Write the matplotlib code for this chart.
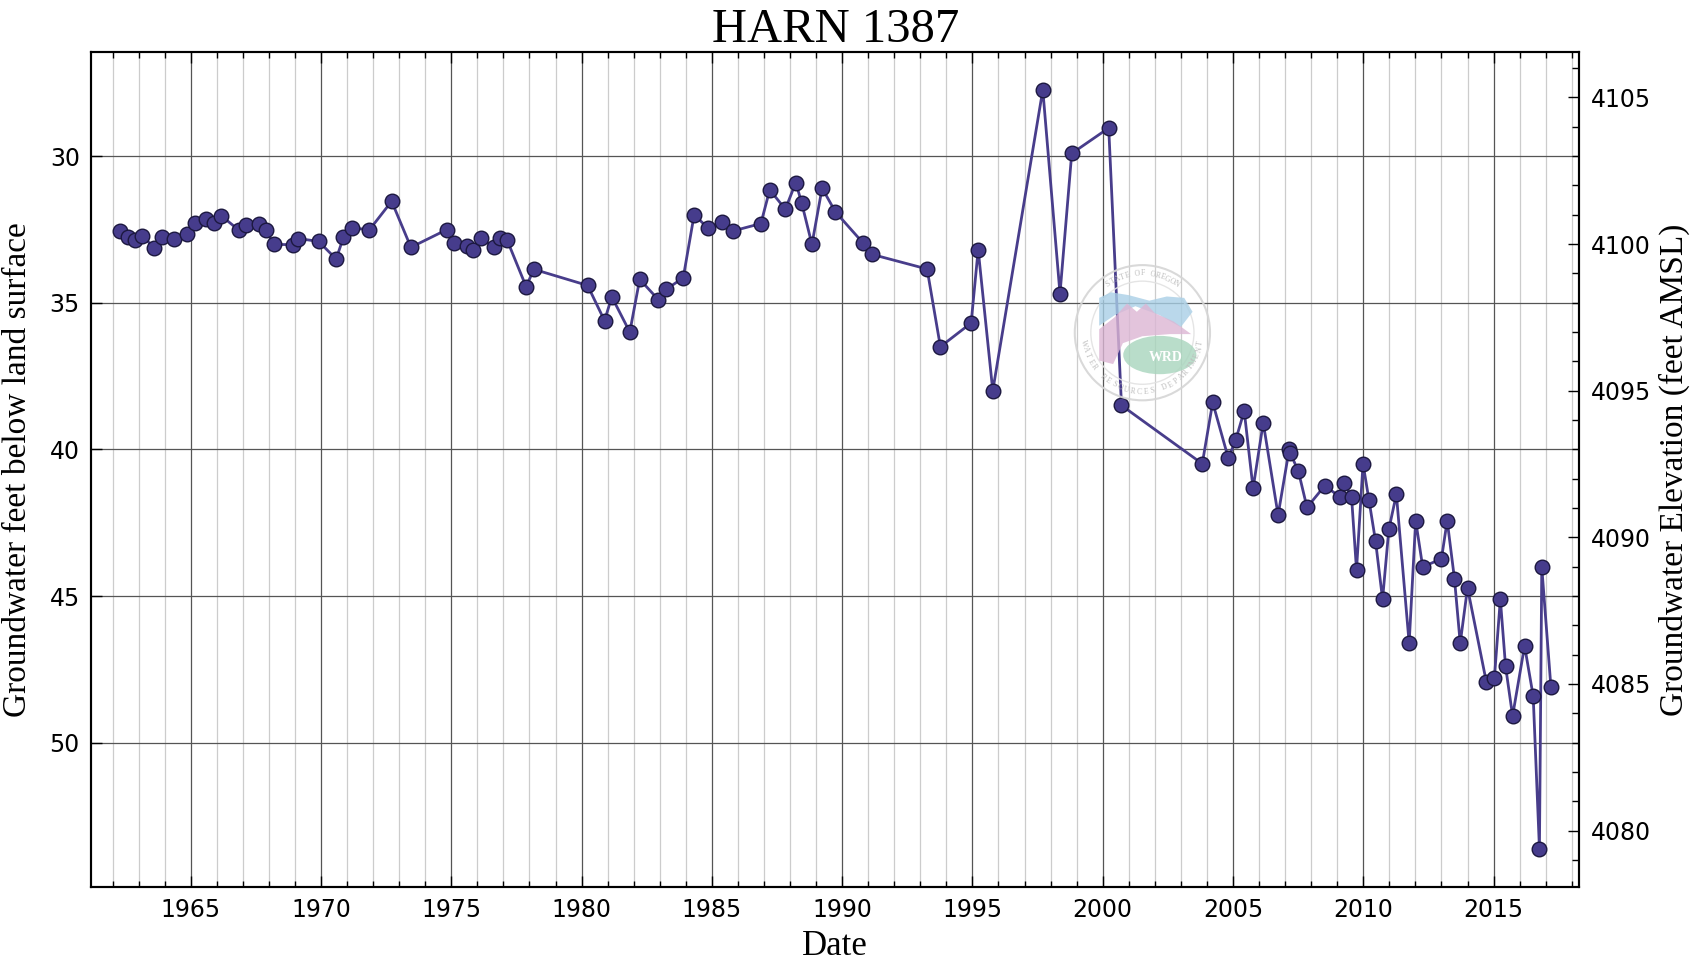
import numpy as np
import matplotlib
matplotlib.use("Agg")
import matplotlib.pyplot as plt
from matplotlib.ticker import MultipleLocator
from matplotlib.patches import Circle, Polygon, Ellipse

# Measurement dates (decimal years) and depth to water (feet below land surface)
years = [
    1962.30, 1962.61, 1962.85, 1963.13, 1963.59, 1963.88, 1964.36, 1964.86,
    1965.15, 1965.58, 1965.88, 1966.18, 1966.84, 1967.11, 1967.61, 1967.89,
    1968.18, 1968.91, 1969.13, 1969.91, 1970.58, 1970.86, 1971.20, 1971.86,
    1972.71, 1973.45, 1974.82, 1975.12, 1975.60, 1975.85, 1976.15, 1976.63,
    1976.87, 1977.14, 1977.87, 1978.17, 1980.23, 1980.88, 1981.16, 1981.85,
    1982.23, 1982.95, 1983.25, 1983.90, 1984.32, 1984.86, 1985.37, 1985.82,
    1986.88, 1987.22, 1987.82, 1988.22, 1988.45, 1988.84, 1989.23, 1989.74,
    1990.79, 1991.14, 1993.26, 1993.77, 1994.95, 1995.22, 1995.78, 1997.70,
    1998.36, 1998.81, 2000.23, 2000.72, 2003.82, 2004.22, 2004.82, 2005.10,
    2005.43, 2005.77, 2006.16, 2006.73, 2007.16, 2007.19, 2007.51, 2007.84,
    2008.52, 2009.12, 2009.26, 2009.55, 2009.74, 2009.99, 2010.22, 2010.47,
    2010.74, 2010.98, 2011.27, 2011.76, 2012.01, 2012.28, 2013.00, 2013.22,
    2013.50, 2013.72, 2014.00, 2014.72, 2015.03, 2015.26, 2015.46, 2015.73,
    2016.19, 2016.52, 2016.76, 2016.85, 2017.20,
]
depth = [
    32.56, 32.77, 32.87, 32.71, 33.12, 32.76, 32.81, 32.65,
    32.29, 32.15, 32.27, 32.04, 32.52, 32.35, 32.33, 32.52,
    33.01, 33.02, 32.81, 32.91, 33.51, 32.77, 32.45, 32.51,
    31.54, 33.11, 32.51, 32.95, 33.07, 33.20, 32.80, 33.11,
    32.80, 32.86, 34.45, 33.86, 34.41, 35.61, 34.80, 36.00,
    34.20, 34.90, 34.54, 34.15, 32.00, 32.46, 32.24, 32.55,
    32.30, 31.15, 31.81, 30.90, 31.61, 33.01, 31.09, 31.90,
    32.95, 33.35, 33.85, 36.50, 35.69, 33.19, 38.00, 27.74,
    34.69, 29.91, 29.04, 38.50, 40.49, 38.40, 40.30, 39.69,
    38.69, 41.33, 39.09, 42.24, 39.98, 40.11, 40.75, 41.98,
    41.24, 41.63, 41.14, 41.63, 44.11, 40.49, 41.74, 43.13,
    45.11, 42.73, 41.53, 46.61, 42.43, 44.01, 43.73, 42.43,
    44.42, 46.61, 44.72, 47.92, 47.81, 45.11, 47.40, 49.09,
    46.70, 48.41, 53.61, 44.02, 48.10,
]

LAND_SURFACE = 4133.0  # feet AMSL
TITLE = "HARN 1387"

plt.rcParams['font.family'] = 'DejaVu Sans'
SERIF = 'Liberation Serif'

fig = plt.figure(figsize=(17, 9.63), dpi=100)
ax = fig.add_axes([0.0535, 0.079, 0.8755, 0.867])

ax.plot(years, depth, '-o', color='#483D8B', lw=2, ms=10.5,
        mfc='#463c8c', mec='#1c1840', mew=1.0, zorder=3)

ylo, yhi = 54.92, 26.45
ax.set_xlim(1961.17, 2018.29)
ax.set_ylim(ylo, yhi)

ax.xaxis.set_major_locator(MultipleLocator(5))
ax.xaxis.set_minor_locator(MultipleLocator(1))
ax.yaxis.set_major_locator(MultipleLocator(5))
ax.grid(which='major', axis='x', color='#555555', lw=0.9)
ax.grid(which='minor', axis='x', color='#cccccc', lw=0.9)
ax.grid(which='major', axis='y', color='#555555', lw=0.9)
ax.set_axisbelow(True)
ax.tick_params(which='major', direction='in', length=8, width=1, labelsize=17,
               top=True, right=False, pad=8)
ax.tick_params(which='minor', direction='in', length=4, width=1, top=True)
for s in ax.spines.values():
    s.set_linewidth(1.5)

ax.set_title(TITLE, family=SERIF, fontsize=35, pad=6)
ax.set_xlabel("Date", family=SERIF, fontsize=25, labelpad=6)
ax.set_ylabel("Groundwater feet below land surface", family=SERIF, fontsize=24, labelpad=12)

ax2 = ax.twinx()
ax2.set_ylim(LAND_SURFACE - ylo, LAND_SURFACE - yhi)
ax2.yaxis.set_major_locator(MultipleLocator(5))
ax2.yaxis.set_minor_locator(MultipleLocator(1))
ax2.tick_params(which='major', direction='in', length=8, width=1, labelsize=17, pad=8)
ax2.tick_params(which='minor', direction='in', length=5, width=1)
ax2.set_ylabel("Groundwater Elevation (feet AMSL)", family=SERIF, fontsize=24, labelpad=6)
for s in ax2.spines.values():
    s.set_linewidth(1.5)

# faint agency seal used as a watermark
wax = fig.add_axes([0.631, 0.582, 0.082, 0.145])
wax.set_xlim(-1, 1)
wax.set_ylim(-1, 1)
wax.set_aspect('equal')
wax.axis('off')
wax.patch.set_alpha(0)
wax.add_patch(Circle((0, 0), 0.97, fill=False, ec='#d5d5d5', lw=1.5, alpha=0.9))
wax.add_patch(Circle((0, 0), 0.74, fill=False, ec='#e2e2e2', lw=1.0, alpha=0.9))
wax.add_patch(Polygon([(-0.62, 0.50), (-0.45, 0.58), (-0.2, 0.54), (0.1, 0.46), (0.35, 0.52),
                       (0.6, 0.50), (0.72, 0.30), (0.55, 0.08), (0.25, 0.25), (-0.1, 0.38),
                       (-0.4, 0.25), (-0.62, 0.10)], fc='#a9cfe6', ec='none', alpha=0.8))
wax.add_patch(Polygon([(-0.62, 0.05), (-0.4, 0.22), (-0.22, 0.42), (-0.08, 0.30), (0.05, 0.42),
                       (0.18, 0.28), (0.45, 0.16), (0.70, -0.02), (0.4, -0.02), (0.0, -0.05),
                       (-0.28, -0.15), (-0.42, -0.45), (-0.62, -0.40)], fc='#dcb6d4', ec='none', alpha=0.8))
wax.add_patch(Ellipse((0.25, -0.32), 1.05, 0.55, fc='#a8d5bd', ec='none', alpha=0.8))
wax.text(0.33, -0.36, "WRD", family=SERIF, fontsize=10, color='white', ha='center',
         va='center', fontweight='bold')
for txt, a0, a1 in [("STATE OF OREGON", 125, 55), ("WATER RESOURCES DEPARTMENT", 190, 350)]:
    angs = np.linspace(a0, a1, len(txt))
    for ch, a in zip(txt, angs):
        r = 0.85
        rot = a - 90 if a0 > a1 else a + 90
        wax.text(r * np.cos(np.radians(a)), r * np.sin(np.radians(a)), ch, family=SERIF,
                 fontsize=5.5, color='#bdbdbd', ha='center', va='center', rotation=rot)

fig.savefig("out.png", dpi=100)
